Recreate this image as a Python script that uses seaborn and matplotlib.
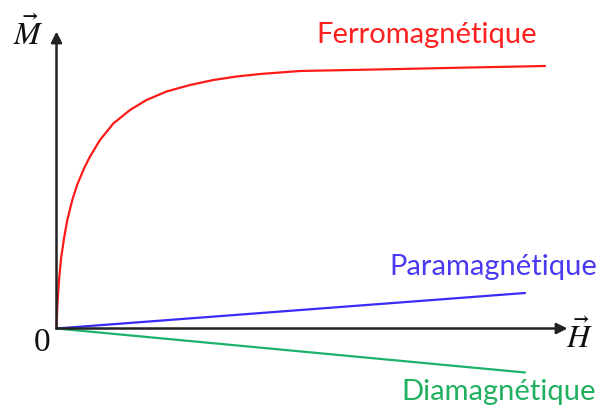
import matplotlib
matplotlib.use("Agg")
import matplotlib.pyplot as plt
import seaborn as sns
import pandas as pd

# Data (H, M)
ferro_h = [0, 0.8, 2.5, 4.8, 7.5, 10.8, 15.8, 20.8, 27.5, 33.5, 43.5, 56.8, 73.5, 90, 110, 133.5,
           157, 180, 203.5, 243.5, 293.5, 343.5, 413.5, 488.5]
ferro_m = [0, 22, 48.5, 72, 90, 108.5, 128.5, 144, 160, 172, 188.5, 205, 218.5, 228.5, 237, 243.5,
           248.5, 252, 254.5, 257.5, 258.5, 259.5, 261, 262.5]
para_h = [0, 468.5]
para_m = [0, 35.5]
dia_h = [0, 468.5]
dia_m = [0, -44]

labels = ["Ferromagnétique", "Paramagnétique", "Diamagnétique"]
colors = ["#FF1A1A", "#3A2BF5", "#1DB36B"]
text_colors = ["#FF2020", "#4B3BF0", "#20B060"]

df = pd.concat([
    pd.DataFrame({"H": ferro_h, "M": ferro_m, "type": labels[0]}),
    pd.DataFrame({"H": para_h, "M": para_m, "type": labels[1]}),
    pd.DataFrame({"H": dia_h, "M": dia_m, "type": labels[2]}),
])

sns.set_style("white")
plt.rcParams["mathtext.fontset"] = "stix"

fig = plt.figure(figsize=(6.05, 4.08), dpi=100)
ax = fig.add_axes([0, 0, 1, 1])

sns.lineplot(data=df, x="H", y="M", hue="type", palette=dict(zip(labels, colors)),
             sort=False, estimator=None, linewidth=1.6, legend=False, ax=ax)
for line in ax.get_lines():
    line.set_solid_joinstyle("round")

ax.set_xlim(-56.5, 548.5)
ax.set_ylim(-79.5, 328.5)
ax.axis("off")

# axes arrows
ax.annotate("", xy=(511, 0), xytext=(0, 0),
            arrowprops=dict(arrowstyle="-|>", lw=1.8, color="#222222", mutation_scale=16, shrinkA=0, shrinkB=0))
ax.annotate("", xy=(0, 297), xytext=(0, 0),
            arrowprops=dict(arrowstyle="-|>", lw=1.8, color="#222222", mutation_scale=16, shrinkA=0, shrinkB=0))

ax.text(-28, 294, r"$\vec{M}$", fontsize=23, ha="center", va="center", color="#111111")
ax.text(523, -9, r"$\vec{H}$", fontsize=23, ha="center", va="center", color="#111111")
ax.text(-14, -14, "0", fontsize=24, ha="center", va="center", family="Liberation Serif", color="#111111")

ax.text(370, 285.5, labels[0], fontsize=21, ha="center", va="baseline", family="Lato", color=text_colors[0])
ax.text(437, 53.5, labels[1], fontsize=21, ha="center", va="baseline", family="Lato", color=text_colors[1])
ax.text(442.5, -71.5, labels[2], fontsize=21, ha="center", va="baseline", family="Lato", color=text_colors[2])

fig.savefig("out.png", dpi=100)
